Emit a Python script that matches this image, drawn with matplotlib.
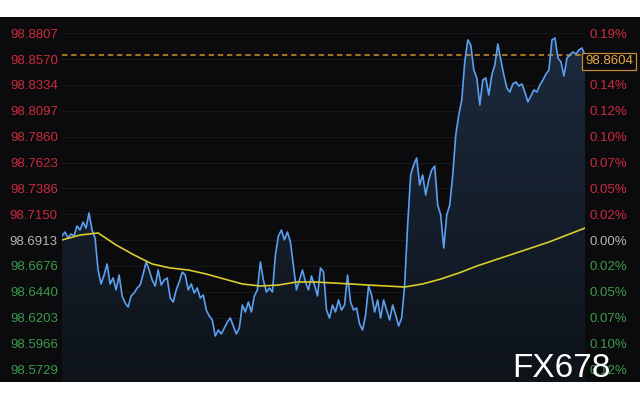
import numpy as np
import matplotlib
matplotlib.use("Agg")
import matplotlib.pyplot as plt
from matplotlib.colors import LinearSegmentedColormap

# price series (one sample every ~3 px of the original chart)
price = [
    98.6950, 98.6987, 98.6932, 98.6969, 98.6950, 98.7042, 98.7005, 98.7078, 98.7023, 98.7161,
    98.7005, 98.6932, 98.6639, 98.6511, 98.6593, 98.6694, 98.6511, 98.6566, 98.6456, 98.6593,
    98.6401, 98.6337, 98.6300, 98.6401, 98.6428, 98.6474, 98.6501, 98.6602, 98.6712, 98.6639,
    98.6547, 98.6492, 98.6639, 98.6501, 98.6547, 98.6566, 98.6382, 98.6346, 98.6456, 98.6529,
    98.6620, 98.6593, 98.6456, 98.6511, 98.6428, 98.6474, 98.6382, 98.6410, 98.6272, 98.6217,
    98.6181, 98.6034, 98.6089, 98.6053, 98.6108, 98.6162, 98.6199, 98.6126, 98.6053, 98.6108,
    98.6318, 98.6254, 98.6346, 98.6254, 98.6401, 98.6456, 98.6712, 98.6547, 98.6437, 98.6474,
    98.6437, 98.6776, 98.6950, 98.7005, 98.6914, 98.6987, 98.6895, 98.6675, 98.6456, 98.6547,
    98.6639, 98.6529, 98.6456, 98.6584, 98.6501, 98.6401, 98.6657, 98.6620, 98.6272, 98.6199,
    98.6318, 98.6254, 98.6364, 98.6272, 98.6318, 98.6593, 98.6346, 98.6272, 98.6291, 98.6144,
    98.6089, 98.6227, 98.6492, 98.6410, 98.6254, 98.6364, 98.6199, 98.6364, 98.6272, 98.6181,
    98.6318, 98.6227, 98.6126, 98.6199, 98.6501, 98.7051, 98.7509, 98.7601, 98.7665, 98.7417,
    98.7509, 98.7326, 98.7463, 98.7555, 98.7591, 98.7234, 98.7143, 98.6840, 98.7143, 98.7234,
    98.7509, 98.7875, 98.8059, 98.8196, 98.8544, 98.8746, 98.8700, 98.8471, 98.8398, 98.8150,
    98.8379, 98.8398, 98.8242, 98.8425, 98.8517, 98.8709, 98.8562, 98.8425, 98.8306, 98.8269,
    98.8343, 98.8361, 98.8324, 98.8343, 98.8269, 98.8178, 98.8233, 98.8288, 98.8269, 98.8333,
    98.8379, 98.8434, 98.8471, 98.8746, 98.8764, 98.8581, 98.8544, 98.8416, 98.8581, 98.8608,
    98.8636, 98.8617, 98.8654, 98.8672, 98.8604,
]

# moving average, sampled evenly across the same time span
ma = [
    98.6914, 98.6959, 98.6978, 98.6868, 98.6776, 98.6694, 98.6657, 98.6639, 98.6602, 98.6556,
    98.6511, 98.6492, 98.6501, 98.6529, 98.6529, 98.6520, 98.6511, 98.6501, 98.6492, 98.6483,
    98.6511, 98.6556, 98.6611, 98.6675, 98.6730, 98.6785, 98.6840, 98.6895, 98.6959, 98.7023,
]

base = 98.6913
ticks = [98.8807, 98.8570, 98.8334, 98.8097, 98.7860, 98.7623, 98.7386,
         98.7150, 98.6913, 98.6676, 98.6440, 98.6203, 98.5966, 98.5729]
y_lo, y_hi = 98.5613, 98.8956

RED = "#cc2a3e"
GREEN = "#3c9a4c"
GREY = "#b4b4b4"

def tick_color(v):
    if abs(v - base) < 1e-6:
        return GREY
    return RED if v > base else GREEN

x = np.arange(len(price))
ma_x = np.linspace(0, len(price) - 1, len(ma))

fig = plt.figure(figsize=(6.4, 4), dpi=100, facecolor="white")
plt.rcParams["font.family"] = ["Liberation Sans", "DejaVu Sans"]

# black band behind everything
bg = fig.add_axes([0, 18 / 400, 1, 365 / 400])
bg.set_facecolor("#0b0b0d")
bg.set_xticks([])
bg.set_yticks([])
for s in bg.spines.values():
    s.set_visible(False)

ax = fig.add_axes([62 / 640, 18 / 400, 523 / 640, 365 / 400])
ax.set_facecolor("#0b0b0d")
for s in ax.spines.values():
    s.set_visible(False)

# faint grid
for t in ticks:
    ax.axhline(t, color="#18191c", lw=0.8, zorder=0)

# gradient fill under the price line
poly = ax.fill_between(x, price, y_lo, color="none")
cmap = LinearSegmentedColormap.from_list("fill", ["#0e131a", "#1c2a3d"])
grad = ax.imshow(np.linspace(1, 0, 256).reshape(-1, 1), cmap=cmap, aspect="auto",
                 extent=[0, len(price) - 1, y_lo, max(price)], zorder=1)
grad.set_clip_path(poly.get_paths()[0], transform=ax.transData)

ax.plot(x, price, color="#5b9ff0", lw=1.2, zorder=3)
ax.plot(ma_x, ma, color="#d8cc2c", lw=1.2, zorder=4)

last = price[-1]
ax.axhline(last, color="#d8902e", lw=1.1, ls=(0, (3.5, 2.5)), zorder=2)

ax.set_xlim(0, len(price) - 1)
ax.set_ylim(y_lo, y_hi)
ax.set_xticks([])

ax.set_yticks(ticks)
ax.set_yticklabels([f"{t:.4f}" for t in ticks])
ax.tick_params(axis="y", length=0, pad=3, labelsize=9.5)
for lab, t in zip(ax.get_yticklabels(), ticks):
    lab.set_color(tick_color(t))

ax2 = ax.twinx()
ax2.set_ylim(y_lo, y_hi)
for s in ax2.spines.values():
    s.set_visible(False)
ax2.set_yticks(ticks)
ax2.set_yticklabels([f"{abs(t - base) / base * 100:.2f}%" for t in ticks])
ax2.tick_params(axis="y", length=0, pad=3, labelsize=9.5)
for lab, t in zip(ax2.get_yticklabels(), ticks):
    lab.set_color(tick_color(t))

# last price box
ax2.text(1.0, last, f"{last:.4f}", transform=ax2.get_yaxis_transform(),
         ha="left", va="top", fontsize=9.5, color="#e8a848", zorder=10,
         bbox=dict(boxstyle="square,pad=0.2", fc="#0b0b0d", ec="#c88a38", lw=0.9))

fig.text(512 / 640, 23 / 400, "FX678", color="white", fontsize=24,
         ha="left", va="baseline", zorder=20)

fig.savefig("out.png", dpi=100, facecolor="white")
